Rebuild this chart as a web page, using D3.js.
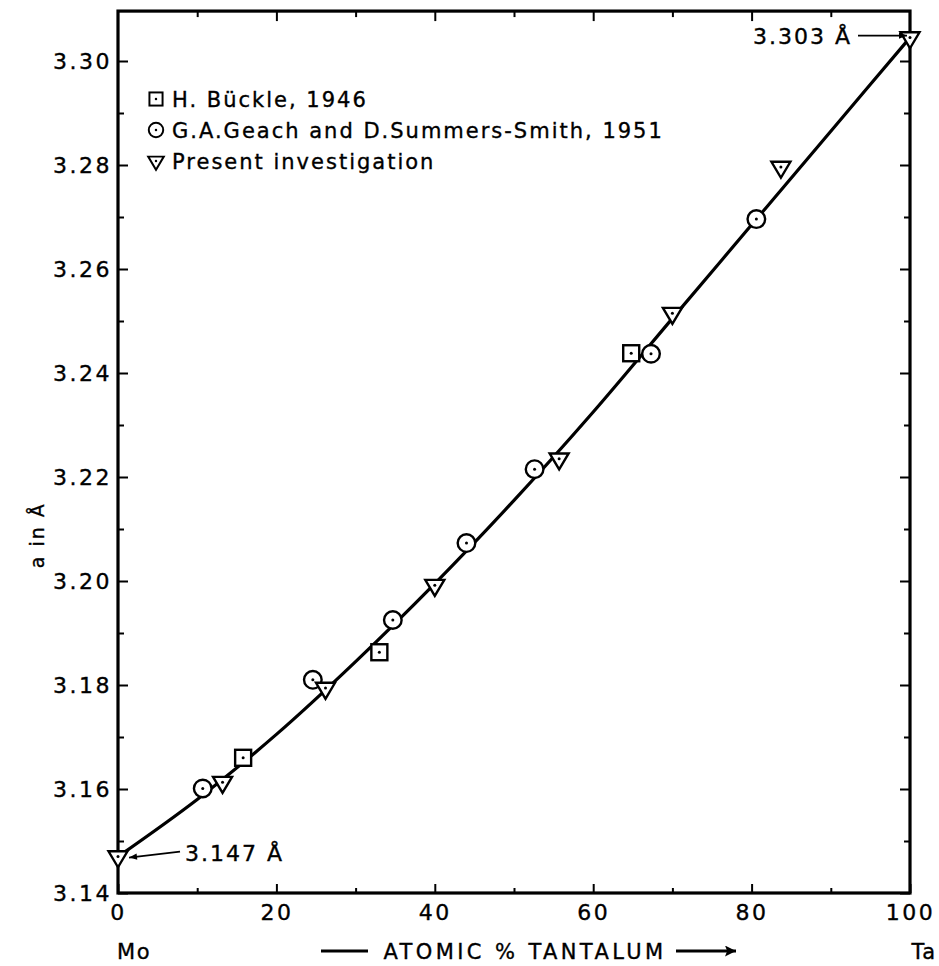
<!DOCTYPE html>
<html>
<head>
<meta charset="utf-8">
<script src="https://cdn.jsdelivr.net/npm/d3@7"></script>
<style>
  body { margin: 0; background: #fff; }
  text { font-family: 'DejaVu Sans', sans-serif; fill: #000; stroke: #000; stroke-width: 0.35px; }
</style>
</head>
<body>
<svg id="chart" width="939" height="966"></svg>
<script>
// atomic % Ta and lattice parameter a (Å)
const buckleX = [15.8, 33.0, 64.8];
const buckleA = [3.166, 3.1863, 3.2438];

const geachX = [10.7, 24.6, 34.7, 44.0, 52.6, 67.3, 80.6];
const geachA = [3.1601, 3.181, 3.1925, 3.2073, 3.2215, 3.2437, 3.2696];

const presentX = [0, 13.2, 26.2, 40.0, 55.7, 70.0, 83.7, 100];
const presentA = [3.147, 3.1613, 3.1794, 3.1992, 3.2235, 3.2515, 3.2796, 3.3045];

// fitted curve
const curveX = [0, 10, 20, 30, 40, 50, 60, 70, 80, 90, 100];
const curveA = [3.147, 3.158, 3.1705, 3.1845, 3.1995, 3.2155, 3.2325, 3.2505, 3.2685, 3.2865, 3.3045];

const xMajor = [0, 20, 40, 60, 80, 100];
const xMinor = [10, 30, 50, 70, 90];
const yMajor = [3.14, 3.16, 3.18, 3.20, 3.22, 3.24, 3.26, 3.28, 3.30];
const yMinor = [3.15, 3.17, 3.19, 3.21, 3.23, 3.25, 3.27, 3.29];
const yTop = 3.3096;

const legendNames = ['H. Bückle, 1946', 'G.A.Geach and D.Summers-Smith, 1951', 'Present investigation'];
const legendShapes = ['square', 'circle', 'triangle'];

const svg = d3.select('svg#chart');
svg.append('rect').attr('width', 939).attr('height', 966).attr('fill', '#fff');

const xScale = d3.scaleLinear().domain([0, 100]).range([118, 910]);
const yScale = d3.scaleLinear().domain([3.14, 3.30]).range([893, 61]);

const plotLeft = xScale(0);
const plotRight = xScale(100);
const plotBottom = yScale(3.14);
const plotTop = yScale(yTop);

// ticks: all point inward, labels outside
const tickLabel = (g) => g.selectAll('text')
  .style('font-family', "'DejaVu Sans', sans-serif")
  .style('font-size', '22px')
  .style('letter-spacing', '2.5px')
  .attr('fill', '#000');

const cleanAxis = (g) => {
  g.select('.domain').remove();
  g.selectAll('line').attr('stroke', '#000').attr('stroke-width', 2);
};

// left
svg.append('g').attr('transform', `translate(${plotLeft},0)`)
  .call(d3.axisLeft(yScale).tickValues(yMajor).tickSize(-10).tickPadding(6)
    .tickFormat(d3.format('.2f')))
  .call(cleanAxis).call(tickLabel);
svg.append('g').attr('transform', `translate(${plotLeft},0)`)
  .call(d3.axisLeft(yScale).tickValues(yMinor).tickSize(-6).tickFormat(''))
  .call(cleanAxis);

// right
svg.append('g').attr('transform', `translate(${plotRight},0)`)
  .call(d3.axisRight(yScale).tickValues(yMajor).tickSize(-10).tickFormat(''))
  .call(cleanAxis);
svg.append('g').attr('transform', `translate(${plotRight},0)`)
  .call(d3.axisRight(yScale).tickValues(yMinor).tickSize(-6).tickFormat(''))
  .call(cleanAxis);

// bottom
svg.append('g').attr('transform', `translate(0,${plotBottom})`)
  .call(d3.axisBottom(xScale).tickValues(xMajor).tickSize(-9).tickPadding(11)
    .tickFormat(d3.format('d')))
  .call(cleanAxis).call(tickLabel);
svg.append('g').attr('transform', `translate(0,${plotBottom})`)
  .call(d3.axisBottom(xScale).tickValues(xMinor).tickSize(-5).tickFormat(''))
  .call(cleanAxis);

// top
svg.append('g').attr('transform', `translate(0,${plotTop})`)
  .call(d3.axisTop(xScale).tickValues(xMajor.slice(1, -1)).tickSize(-10).tickFormat(''))
  .call(cleanAxis);
svg.append('g').attr('transform', `translate(0,${plotTop})`)
  .call(d3.axisTop(xScale).tickValues(xMinor).tickSize(-6).tickFormat(''))
  .call(cleanAxis);

// frame
svg.append('rect')
  .attr('x', plotLeft).attr('y', plotTop)
  .attr('width', plotRight - plotLeft).attr('height', plotBottom - plotTop)
  .attr('fill', 'none').attr('stroke', '#000').attr('stroke-width', 3.2);

// curve
const curveData = curveX.map((x, i) => ({ x, a: curveA[i] }));
const lineFunction = d3.line()
  .x((d) => xScale(d.x))
  .y((d) => yScale(d.a))
  .curve(d3.curveCatmullRom);

svg.append('path')
  .attr('d', lineFunction(curveData))
  .attr('fill', 'none')
  .attr('stroke', '#000')
  .attr('stroke-width', 3.2);

// marker shapes
const triH = 16;
const triW = 19;
const triPath = `M${-triW / 2},${-triH / 3}L${triW / 2},${-triH / 3}L0,${(2 * triH) / 3}Z`;

function drawMarker(g, shape) {
  if (shape === 'square') {
    g.append('rect').attr('x', -8).attr('y', -8).attr('width', 16).attr('height', 16);
  } else if (shape === 'circle') {
    g.append('circle').attr('r', 8.8);
  } else {
    g.append('path').attr('d', triPath);
  }
  g.selectAll('rect,circle,path')
    .attr('fill', '#fff').attr('stroke', '#000').attr('stroke-width', 2.4);
  g.append('circle').attr('r', 1.5).attr('fill', '#000');
}

const series = [
  { xs: buckleX, as: buckleA, shape: 'square' },
  { xs: geachX, as: geachA, shape: 'circle' },
  { xs: presentX, as: presentA, shape: 'triangle' },
];

series.forEach((s) => {
  const pts = s.xs.map((x, i) => ({ x, a: s.as[i] }));
  svg.append('g').selectAll('g')
    .data(pts)
    .enter()
    .append('g')
    .attr('transform', (d) => `translate(${xScale(d.x)},${yScale(d.a)})`)
    .each(function () { drawMarker(d3.select(this), s.shape); });
});

// legend
const legend = svg.append('g').attr('transform', 'translate(156,99)');
legendNames.forEach((name, i) => {
  const row = legend.append('g').attr('transform', `translate(0,${i * 31})`);
  const m = row.append('g').attr('transform', 'scale(0.82)');
  drawMarker(m, legendShapes[i]);
  row.append('text')
    .attr('x', 16).attr('y', 8)
    .style('font-size', '21px')
    .style('letter-spacing', '2px')
    .text(name);
});

// arrowheads
const defs = svg.append('defs');
defs.append('marker')
  .attr('id', 'arr')
  .attr('viewBox', '0 0 10 10')
  .attr('refX', 10).attr('refY', 5)
  .attr('markerWidth', 10).attr('markerHeight', 8)
  .attr('markerUnits', 'userSpaceOnUse')
  .attr('orient', 'auto')
  .append('path').attr('d', 'M0,1L10,5L0,9Z').attr('fill', '#000');
defs.append('marker')
  .attr('id', 'arrBig')
  .attr('viewBox', '0 0 10 10')
  .attr('refX', 10).attr('refY', 5)
  .attr('markerWidth', 15).attr('markerHeight', 11)
  .attr('markerUnits', 'userSpaceOnUse')
  .attr('orient', 'auto')
  .append('path').attr('d', 'M0,0L10,5L0,10L2,5Z').attr('fill', '#000');

// end-point annotations
const p0 = { x: xScale(presentX[0]), y: yScale(presentA[0]) };
svg.append('line')
  .attr('x1', p0.x + 62).attr('y1', p0.y - 5)
  .attr('x2', p0.x + 11).attr('y2', p0.y + 1)
  .attr('stroke', '#000').attr('stroke-width', 1.8)
  .attr('marker-end', 'url(#arr)');
svg.append('text')
  .attr('x', p0.x + 67).attr('y', p0.y + 4)
  .style('font-size', '22px').style('letter-spacing', '2px')
  .text('3.147 Å');

const pN = { x: xScale(presentX[presentX.length - 1]), y: yScale(presentA[presentA.length - 1]) };
svg.append('line')
  .attr('x1', pN.x - 52).attr('y1', pN.y - 2)
  .attr('x2', pN.x - 3).attr('y2', pN.y - 2)
  .attr('stroke', '#000').attr('stroke-width', 1.8)
  .attr('marker-end', 'url(#arr)');
svg.append('text')
  .attr('x', pN.x - 58).attr('y', pN.y + 6)
  .attr('text-anchor', 'end')
  .style('font-size', '22px').style('letter-spacing', '2px')
  .text('3.303 Å');

// axis titles
svg.append('text')
  .attr('transform', `translate(44,${yScale(3.2088)}) rotate(-90)`)
  .attr('text-anchor', 'middle')
  .style('font-size', '19px').style('letter-spacing', '2px')
  .text('a in Å');

svg.append('text')
  .attr('x', plotLeft + 16).attr('y', 959)
  .attr('text-anchor', 'middle')
  .style('font-size', '21px').style('letter-spacing', '1.5px')
  .text('Mo');
svg.append('text')
  .attr('x', plotRight + 14).attr('y', 959)
  .attr('text-anchor', 'middle')
  .style('font-size', '21px').style('letter-spacing', '1.5px')
  .text('Ta');

const titleY = 951;
svg.append('line')
  .attr('x1', 321).attr('x2', 368).attr('y1', titleY).attr('y2', titleY)
  .attr('stroke', '#000').attr('stroke-width', 2.8);
svg.append('text')
  .attr('x', 525).attr('y', titleY + 8)
  .attr('text-anchor', 'middle')
  .style('font-size', '21px').style('letter-spacing', '3.4px')
  .text('ATOMIC % TANTALUM');
svg.append('line')
  .attr('x1', 676).attr('x2', 736).attr('y1', titleY).attr('y2', titleY)
  .attr('stroke', '#000').attr('stroke-width', 2.8)
  .attr('marker-end', 'url(#arrBig)');
</script>
</body>
</html>
